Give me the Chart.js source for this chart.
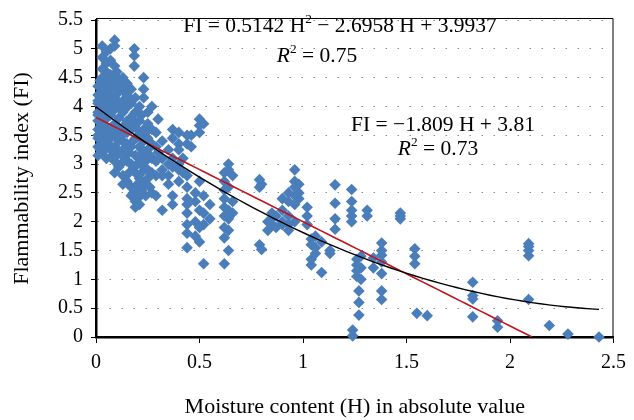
<!DOCTYPE html>
<html>
<head>
<meta charset="utf-8">
<script src="https://cdn.jsdelivr.net/npm/chart.js@4/dist/chart.umd.min.js"></script>
<style>
  html, body { margin: 0; padding: 0; background: #fff; }
  #wrap { width: 634px; height: 420px; }
</style>
</head>
<body>
<div id="wrap"><canvas id="fiChart" width="634" height="420"></canvas></div>
<script>
// Moisture content (H) and flammability index (FI)
const moisture = [
  0.01,0.01,0.01,0.01,0.01,0.01,0.01,0.01,0.01,0.01,0.01,0.01,
  0.03,0.03,0.03,0.03,0.03,0.03,0.03,0.03,0.03,0.03,0.03,0.03,0.03,
  0.05,0.05,0.05,0.05,0.05,0.05,0.05,0.05,0.05,0.05,0.05,0.05,
  0.07,0.07,0.07,0.07,0.07,0.07,0.07,0.07,0.07,0.07,
  0.09,0.09,0.09,0.09,0.09,0.09,0.09,0.09,0.09,0.09,0.09,0.09,
  0.11,0.11,0.11,0.11,0.11,0.11,0.11,0.11,
  0.13,0.13,0.13,0.13,0.13,0.13,0.13,0.13,0.13,
  0.15,0.15,0.15,0.15,0.15,0.15,0.15,0.15,
  0.17,0.17,0.17,0.17,0.17,0.17,0.17,0.17,
  0.185,0.185,0.185,
  0.19,0.19,0.19,0.19,0.19,0.19,0.19,0.19,0.19,
  0.21,0.21,0.21,0.21,0.21,0.21,0.21,0.21,
  0.23,0.23,0.23,0.23,0.23,0.23,0.23,0.23,
  0.25,0.25,0.25,0.25,0.25,0.25,
  0.27,0.27,0.27,0.27,0.27,0.27,
  0.29,0.29,0.29,0.29,0.29,
  0.3,0.3,
  0.32,0.32,0.32,0.32,0.32,
  0.35,0.35,0.35,0.35,
  0.37,0.37,0.37,0.37,0.37,0.37,
  0.4,0.4,0.4,0.4,0.4,0.4,
  0.42,0.42,
  0.44,0.44,0.44,0.44,0.44,0.44,0.44,0.44,0.44,0.44,
  0.46,0.46,
  0.48,0.48,0.48,0.48,
  0.5,0.5,0.5,0.5,0.5,0.5,0.5,
  0.52,0.52,0.52,0.52,0.52,
  0.55,0.55,
  0.62,0.62,0.62,0.62,0.62,0.62,0.62,0.62,0.62,
  0.64,0.64,0.64,0.64,0.64,0.64,0.64,
  0.66,0.66,0.66,
  0.79,0.79,0.79,
  0.8,0.8,
  0.83,0.83,
  0.85,0.85,0.85,
  0.87,0.87,
  0.9,0.9,0.9,0.9,
  0.93,0.93,0.93,0.93,0.93,
  0.96,0.96,0.96,0.96,0.96,0.96,
  0.98,0.98,0.98,
  1.02,1.02,1.02,
  1.04,1.04,1.04,1.04,
  1.06,1.06,1.06,
  1.09,1.09,
  1.13,1.13,
  1.155,1.155,1.155,1.155,
  1.235,1.235,1.235,1.235,1.235,1.24,1.24,
  1.26,1.26,1.26,1.26,1.27,1.27,1.27,
  1.28,1.28,1.28,
  1.31,1.31,
  1.34,1.34,
  1.38,1.38,1.38,1.38,1.38,1.38,1.38,
  1.47,1.47,1.47,
  1.54,1.54,1.54,
  1.55,1.6,
  1.82,1.82,1.82,1.82,
  1.94,1.94,
  2.09,2.09,2.09,2.09,2.09,
  2.19,2.28,2.43,
  0.02,0.02,0.02,
  0.04,0.04,0.04,
  0.06,0.06,0.06,
  0.08,0.08,0.08,0.08,
  0.1,0.1,0.1,0.1,
  0.12,0.12,0.12,0.12,
  0.14,0.14,0.14,
  0.16,0.16,0.16,0.16,
  0.18,0.18,0.18,0.18,
  0.2,0.2,0.2,0.2,
  0.22,0.22,0.22,0.22,
  0.24,0.24,0.24,
  0.26,0.26
];
const flammability = [
  3.15,3.3,3.45,3.6,3.75,3.9,4.05,4.2,4.35,3.5,3.85,4.1,
  3.2,3.35,3.55,3.7,3.95,4.15,4.3,4.5,4.65,4.85,5.05,4.0,3.4,
  3.1,3.3,3.5,3.65,3.8,4.0,4.25,4.4,4.6,4.75,4.95,3.9,
  3.25,3.45,3.6,3.85,4.1,4.3,4.55,4.8,5.0,4.2,
  5.15,5.05,4.7,4.55,4.35,4.15,3.95,3.7,3.5,3.3,3.05,2.85,
  4.45,4.25,4.05,3.8,3.6,3.4,3.2,2.95,
  4.5,4.3,4.1,3.9,3.65,3.4,3.25,2.8,2.65,
  4.4,4.2,4.0,3.75,3.55,3.35,3.05,2.7,
  4.3,4.05,3.8,3.6,3.3,3.0,2.6,2.45,
  5.0,4.88,4.7,
  4.15,3.9,3.7,3.45,3.15,2.85,2.55,2.35,2.25,
  4.0,3.75,3.5,3.3,3.1,2.75,2.45,2.3,
  4.5,4.3,4.15,3.6,3.4,3.2,2.95,2.65,
  3.9,3.7,3.45,3.25,2.9,2.75,
  4.0,3.6,3.35,3.1,2.85,2.5,
  3.55,3.3,3.05,2.8,2.45,
  3.78,3.2,
  3.4,3.1,2.9,2.8,2.2,
  3.25,3.0,2.8,2.65,
  3.6,3.45,3.1,2.95,2.45,2.3,
  3.55,3.35,3.25,3.0,2.9,2.7,
  3.1,2.85,
  3.5,3.35,2.8,2.6,2.4,2.3,2.15,1.95,1.8,1.55,
  3.5,3.3,
  2.5,2.35,2.0,1.75,
  3.78,3.67,3.55,2.7,2.2,1.9,1.65,
  3.7,2.45,2.15,1.95,1.27,
  2.3,2.05,
  2.85,2.7,2.55,2.4,2.25,2.1,1.9,1.72,1.27,
  3.0,2.9,2.6,2.2,2.05,1.5,1.85,
  2.8,2.35,2.15,
  2.73,2.6,1.6,
  2.65,1.52,
  2.0,1.85,
  2.05,1.95,2.15,
  1.9,2.1,
  2.4,2.2,2.0,1.95,
  2.5,2.35,2.1,1.95,1.85,
  2.9,2.7,2.6,2.45,2.3,2.0,
  2.65,2.5,2.4,
  2.25,2.1,1.95,
  1.7,1.6,1.35,1.25,
  1.75,1.55,1.45,
  1.65,1.12,
  1.5,1.45,
  2.64,2.32,2.05,1.87,
  2.56,2.35,2.2,2.1,2.0,0.12,0.02,
  1.35,1.25,1.15,1.05,0.8,0.6,0.38,
  1.4,1.2,1.0,
  2.2,2.1,
  1.37,1.2,
  1.63,1.5,1.42,1.3,1.1,0.8,0.65,
  2.15,2.1,2.05,
  1.53,1.4,1.27,
  0.41,0.37,
  0.95,0.72,0.66,0.35,
  0.28,0.17,
  1.62,1.57,1.5,1.41,0.65,
  0.2,0.05,0.0,
  3.25,3.65,4.45,
  3.75,4.1,4.4,
  3.35,3.95,4.5,
  3.15,3.55,4.0,4.45,
  3.15,3.55,4.0,4.6,
  3.0,3.5,3.95,4.35,
  3.1,3.55,3.95,
  2.85,3.2,3.65,4.1,
  2.5,2.95,3.4,3.85,
  2.4,2.65,3.0,3.6,
  2.55,2.85,3.25,3.85,
  2.45,3.05,3.55,
  2.6,3.15
];

// Trendline coefficients as printed on the chart (highest power first)
const quadCoef = [0.5142, -2.6958, 3.9937];
const linCoef = [-1.809, 3.81];
const quadRange = [0, 2.43];
const linRange = [0, 2.106];

const xTicks = [0, 0.5, 1, 1.5, 2, 2.5];
const yTicks = [0, 0.5, 1, 1.5, 2, 2.5, 3, 3.5, 4, 4.5, 5, 5.5];

function evalPoly(c, x) {
  return c.reduce((acc, k) => acc * x + k, 0);
}
function trend(c, range) {
  const pts = [];
  const n = 60;
  for (let i = 0; i <= n; i++) {
    const x = range[0] + (range[1] - range[0]) * i / n;
    pts.push({ x: x, y: evalPoly(c, x) });
  }
  return pts;
}

const points = moisture.map((h, i) => ({ x: h, y: flammability[i] }));
const SERIF = "'Liberation Serif', 'DejaVu Serif', serif";

// equations and R² drawn as rich text
function drawRich(ctx, parts, cx, baseline, size) {
  const fontFor = p => (p.italic ? "italic " : "") + (p.sup ? size * 0.62 : size) + "px " + SERIF;
  let total = 0;
  parts.forEach(p => { ctx.font = fontFor(p); total += ctx.measureText(p.t).width; });
  let x = cx - total / 2;
  parts.forEach(p => {
    ctx.font = fontFor(p);
    ctx.fillText(p.t, x, p.sup ? baseline - size * 0.42 : baseline);
    x += ctx.measureText(p.t).width;
  });
}

const framePlugin = {
  id: "frame",
  afterDraw(chart) {
    const { ctx, chartArea: a } = chart;
    ctx.save();
    ctx.strokeStyle = "#000";
    ctx.lineWidth = 1;
    ctx.beginPath();
    ctx.moveTo(a.left, a.top - 1.5);
    ctx.lineTo(a.right - 0.5, a.top - 1.5);
    ctx.lineTo(a.right - 0.5, a.bottom);
    ctx.stroke();

    ctx.fillStyle = "#000";
    ctx.textBaseline = "alphabetic";
    ctx.textAlign = "left";
    drawRich(ctx, [{ t: "FI = 0.5142 H" }, { t: "2", sup: true }, { t: " \u2212 2.6958 H + 3.9937" }], 340, 32, 21.5);
    drawRich(ctx, [{ t: "R", italic: true }, { t: "2", sup: true }, { t: " = 0.75" }], 317, 62, 21.5);
    drawRich(ctx, [{ t: "FI = \u22121.809 H + 3.81" }], 443, 131, 21.5);
    drawRich(ctx, [{ t: "R", italic: true }, { t: "2", sup: true }, { t: " = 0.73" }], 438, 155, 21.5);
    ctx.restore();
  }
};

const ctx = document.getElementById("fiChart").getContext("2d");
new Chart(ctx, {
  type: "scatter",
  data: {
    datasets: [
      {
        type: "line",
        data: trend(quadCoef, quadRange),
        borderColor: "#000000",
        borderWidth: 1.4,
        pointRadius: 0,
        fill: false,
        order: 0
      },
      {
        type: "line",
        data: trend(linCoef, linRange),
        borderColor: "#C0141C",
        borderWidth: 1.6,
        pointRadius: 0,
        fill: false,
        order: 1
      },
      {
        data: points,
        pointStyle: "rectRot",
        pointRadius: 5.8,
        pointBorderWidth: 0,
        backgroundColor: "#4A7EBB",
        borderColor: "#4A7EBB",
        clip: false,
        order: 2
      }
    ]
  },
  options: {
    responsive: false,
    animation: false,
    devicePixelRatio: 1,
    layout: { padding: { top: 17, right: 12, left: 9, bottom: 0 } },
    plugins: { legend: { display: false }, tooltip: { enabled: false } },
    scales: {
      x: {
        type: "linear",
        min: 0,
        max: 2.5,
        afterFit: s => { s.height = 83; },
        afterBuildTicks: s => { s.ticks = xTicks.map(v => ({ value: v })); },
        ticks: {
          color: "#000",
          font: { family: SERIF, size: 20 },
          padding: 8,
          maxRotation: 0,
          callback: v => String(v)
        },
        grid: { drawOnChartArea: false, tickLength: 6, tickColor: "#000", tickWidth: 1 },
        border: { color: "#000", width: 2.5 },
        title: {
          display: true,
          text: "Moisture content (H) in absolute value",
          color: "#000",
          font: { family: SERIF, size: 22 },
          padding: { top: 0, bottom: 0 }
        }
      },
      y: {
        min: 0,
        max: 5.5,
        afterFit: s => { s.width = 87; },
        afterBuildTicks: s => { s.ticks = yTicks.map(v => ({ value: v })); },
        ticks: {
          color: "#000",
          font: { family: SERIF, size: 20 },
          padding: 8,
          callback: v => String(v)
        },
        grid: { color: "#8a8a8a", lineWidth: 1, tickLength: 5, tickColor: "#000", tickWidth: 1, tickBorderDash: [] },
        border: { color: "#000", width: 2.5, dash: [1.5, 10.5] },
        title: {
          display: true,
          text: "Flammability index (FI)",
          color: "#000",
          font: { family: SERIF, size: 22 },
          padding: { top: 0, bottom: 0 }
        }
      }
    }
  },
  plugins: [framePlugin]
});
</script>
</body>
</html>
